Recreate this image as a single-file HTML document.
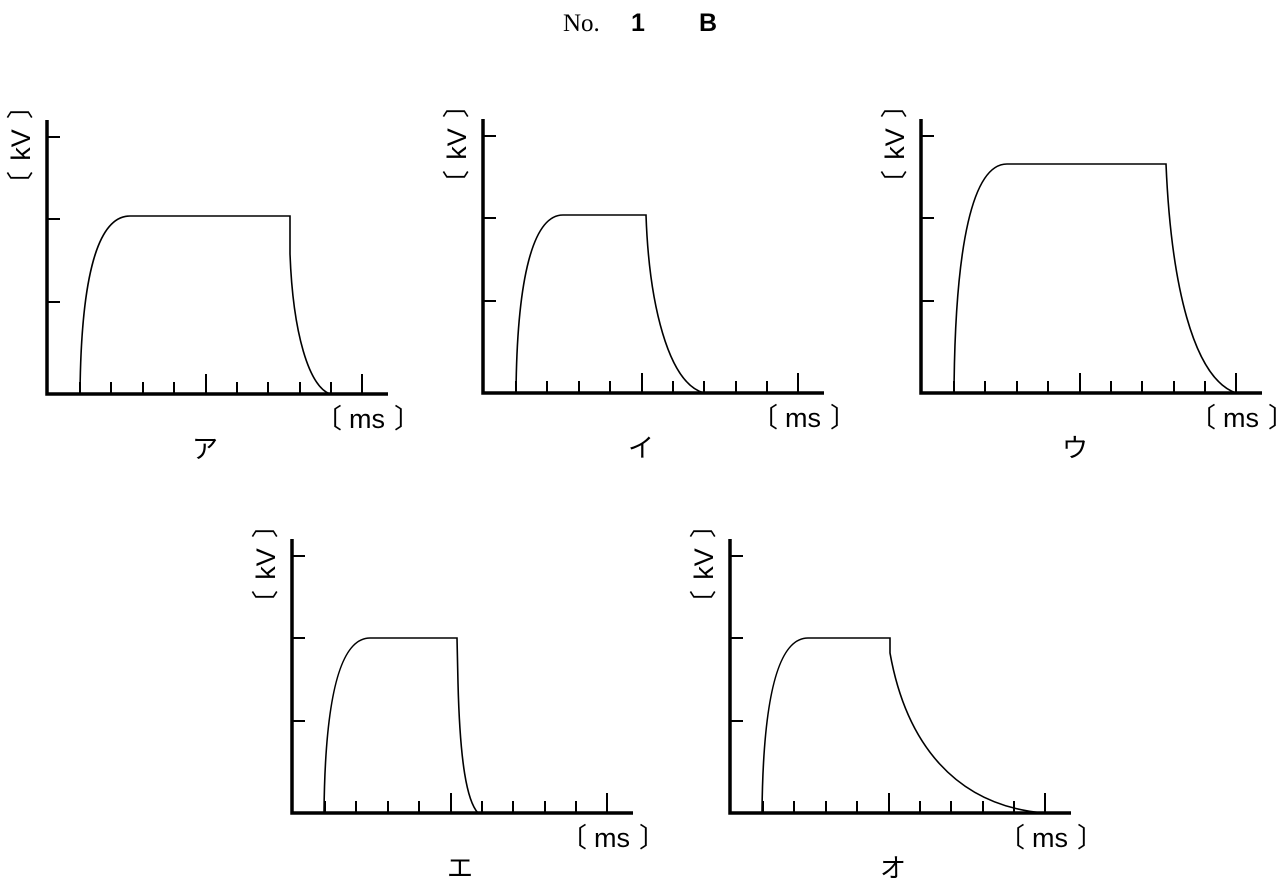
<!DOCTYPE html>
<html><head><meta charset="utf-8"><style>
html,body{margin:0;padding:0;background:#fff;width:1280px;height:884px;overflow:hidden}
svg{display:block}
.ax{stroke:#000;stroke-width:3.5;fill:none}
.tk{stroke:#000;stroke-width:2;fill:none}
.cv{stroke:#000;stroke-width:1.6;fill:none}
.lb{font-family:"Liberation Sans","Noto Sans CJK JP",sans-serif;font-size:27px;fill:#000}
.kn{font-family:"Noto Sans CJK JP",sans-serif;font-size:26px;fill:#000}
</style></head><body>
<svg width="1280" height="884" viewBox="0 0 1280 884">
<defs>
<g id="axes">
<path class="ax" d="M0,-274 L0,0 L341,0"/>
<path class="tk" d="M0,-257 H13 M0,-175 H13 M0,-92 H13"/>
<path class="tk" d="M33,0 V-12 M64,0 V-12 M96,0 V-12 M127,0 V-12 M159,0 V-20 M190,0 V-12 M221,0 V-12 M253,0 V-12 M284,0 V-12 M315,0 V-20"/>
<g transform="translate(-26,-254) rotate(-90)">
<text class="lb" x="-58" y="9" text-anchor="start">〔</text>
<text class="lb" x="-5" y="9" text-anchor="middle">kV</text>
<text class="lb" x="48" y="9" text-anchor="end">〕</text>
</g>
<text class="lb" x="268" y="34">〔</text>
<text class="lb" x="320" y="34" text-anchor="middle">ms</text>
<text class="lb" x="374" y="34" text-anchor="end">〕</text>
</g>
</defs>
<text x="563" y="31" style="font-family:'Liberation Serif',serif;font-size:25px">No.</text>
<text x="638" y="31" text-anchor="middle" style="font-family:'Liberation Sans',sans-serif;font-size:25px;font-weight:bold">1</text>
<text x="708" y="31" text-anchor="middle" style="font-family:'Liberation Sans',sans-serif;font-size:25px;font-weight:bold">B</text>

<g transform="translate(47,394)">
<use href="#axes"/>
<path class="cv" d="M33,0 C34,-115 50,-178 83,-178 L243,-178 L243,-140 C246,-60 262,-8 283,0"/>
<text class="kn" x="158" y="64" text-anchor="middle">ア</text>
</g>
<g transform="translate(483,393)">
<use href="#axes"/>
<path class="cv" d="M33,0 C34,-115 50,-178 80,-178 L163,-178 C166,-90 185,-10 221,0"/>
<text class="kn" x="158" y="64" text-anchor="middle">イ</text>
</g>
<g transform="translate(921,393)">
<use href="#axes"/>
<path class="cv" d="M33,0 C34,-150 52,-229 86,-229 L245,-229 C250,-110 272,-15 315,0"/>
<text class="kn" x="154" y="64" text-anchor="middle">ウ</text>
</g>
<g transform="translate(292,813)">
<use href="#axes"/>
<path class="cv" d="M32,0 C33,-115 48,-175 78,-175 L165,-175 L166,-130 C168,-50 175,-12 186,0"/>
<text class="kn" x="168" y="64" text-anchor="middle">エ</text>
</g>
<g transform="translate(730,813)">
<use href="#axes"/>
<path class="cv" d="M32,0 C33,-115 48,-175 78,-175 L160,-175 L160,-160 C176,-70 225,-8 313,0"/>
<text class="kn" x="163" y="64" text-anchor="middle">オ</text>
</g>
</svg>
</body></html>
